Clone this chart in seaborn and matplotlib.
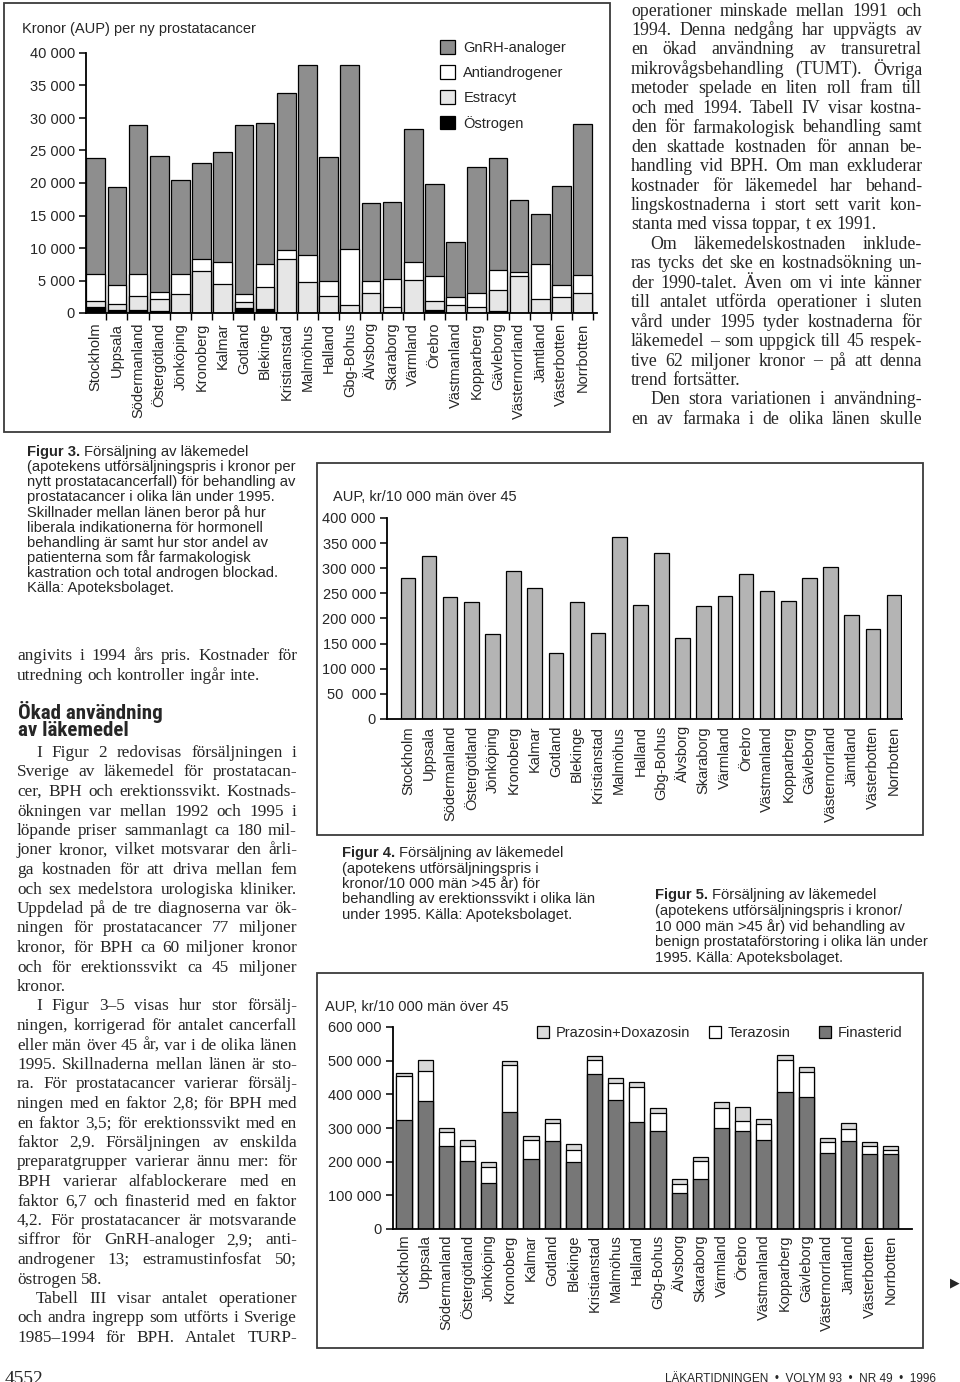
import os
import numpy as np
import pandas as pd
import matplotlib
matplotlib.use('Agg')
import matplotlib.pyplot as plt
from matplotlib import font_manager
from matplotlib.font_manager import FontProperties
from matplotlib.patches import Rectangle, Patch
from matplotlib.ticker import FuncFormatter, MultipleLocator, FixedLocator
import seaborn as sns

W, H = 960, 1382

regions = ['Stockholm', 'Uppsala', 'Södermanland', 'Östergötland', 'Jönköping',
           'Kronoberg', 'Kalmar', 'Gotland', 'Blekinge', 'Kristianstad', 'Malmöhus',
           'Halland', 'Gbg-Bohus', 'Älvsborg', 'Skaraborg', 'Värmland', 'Örebro',
           'Västmanland', 'Kopparberg', 'Gävleborg', 'Västernorrland', 'Jämtland',
           'Västerbotten', 'Norrbotten']

# Figur 3: kronor (AUP) per ny prostatacancer
ostrogen = [1000, 400, 500, 250, 0, 0, 0, 750, 550, 0, 0, 0,
            0, 0, 0, 0, 500, 0, 0, 250, 0, 0, 0, 0]
estracyt = [800, 1000, 2150, 1950, 2900, 6400, 4450, 900, 3450, 8300, 4750, 2650,
            1300, 3100, 1000, 5100, 1400, 1250, 850, 3250, 5700, 2100, 2400, 3050]
antiandrogener = [4200, 2850, 3350, 1100, 3100, 1900, 3450, 1200, 3600, 1400, 4150, 2300,
                  8500, 1850, 4300, 2800, 3850, 1250, 2200, 3150, 550, 5450, 1950, 2800]
gnrh = [17900, 15100, 22850, 20800, 14400, 14800, 16800, 26000, 21700, 24100, 29300, 19000,
        28400, 12000, 11800, 20350, 14050, 8400, 19400, 17200, 11200, 7650, 15250, 23300]

# Figur 4: erektionssvikt, AUP kr/10 000 män över 45
erektion = [281000, 324000, 242500, 232000, 168800, 295000, 260500, 131600, 233200, 172000,
            362800, 227200, 331000, 162100, 224600, 243900, 289000, 254500, 233900, 281000,
            301700, 206000, 179400, 247200]

# Figur 5: BPH, AUP kr/10 000 män över 45
finasterid = [325000, 381500, 246000, 200500, 136500, 347000, 208500, 261000, 198500, 459500,
              384500, 319000, 292500, 107500, 149500, 299500, 290500, 264000, 407000, 393500,
              224500, 260000, 222500, 221500]
terazosin = [128000, 89000, 43500, 47500, 47500, 139000, 56500, 54000, 37500, 41500,
             49500, 103000, 53500, 26000, 51500, 60500, 31500, 46500, 95000, 72000,
             32500, 38500, 24500, 12000]
prazosin_doxazosin = [10000, 30500, 11000, 17000, 14000, 14000, 12000, 13000, 15000, 13000,
                      16000, 14000, 12000, 14000, 12500, 18000, 40000, 15000, 15000, 16000,
                      12000, 15000, 12000, 12000]

SANS = ['Liberation Sans', 'DejaVu Sans']
SERIF = ['Liberation Serif', 'DejaVu Serif']

sns.set_theme(style='ticks')
plt.rcParams['font.family'] = SANS
plt.rcParams['axes.linewidth'] = 1.3
FS = 10.5


def head_font():
    # condensed bold face for the section heading, whichever is installed
    files = {os.path.basename(f.fname): f.fname for f in font_manager.fontManager.ttflist}
    for want in ['NotoSans-CondensedBold', 'RobotoCondensed-Bold', 'LiberationSansNarrow-Bold',
                 'DejaVuSansCondensed-Bold', 'OpenSans-CondensedBold']:
        for base, path in files.items():
            if base.startswith(want):
                return FontProperties(fname=path)
    return FontProperties(family='Liberation Sans', weight='bold')


fig = plt.figure(figsize=(W / 100, H / 100), dpi=100)
renderer = fig.canvas.get_renderer()


def px_box(left, top, right, bottom):
    return [left / W, 1 - bottom / H, (right - left) / W, (bottom - top) / H]


def fy(y):
    return 1 - y / H


def frame(left, top, right, bottom):
    fig.add_artist(Rectangle((left / W, fy(bottom)), (right - left) / W, (bottom - top) / H,
                             transform=fig.transFigure, fill=False, lw=1.3, ec='#3a3a3a'))


def thousands(v, pos):
    return '{:,}'.format(int(round(v))).replace(',', ' ')


def style_axes(ax, ymax, ystep, xlim, xpad):
    sns.despine(ax=ax)
    ax.set_ylim(0, ymax)
    ax.set_xlim(*xlim)
    ax.yaxis.set_major_locator(MultipleLocator(ystep))
    ax.yaxis.set_major_formatter(FuncFormatter(thousands))
    ax.set_xticks(range(len(regions)))
    ax.set_xticklabels(regions, rotation=90, fontsize=FS, va='top', ha='center')
    ax.tick_params(axis='x', length=0, pad=xpad)
    ax.tick_params(axis='y', length=5, width=1.1, labelsize=FS, pad=3, color='black')
    for sp in ax.spines.values():
        sp.set_color('black')
    ax.set_xlabel('')
    ax.set_ylabel('')
    ax.set_facecolor('none')


def stacked(ax, layers, colors, width):
    # cumulative layers drawn from the top down, each bar covering the ones below
    cum = np.cumsum(np.array(layers), axis=0)
    for vals, c in zip(cum[::-1], colors[::-1]):
        df = pd.DataFrame({'region': regions, 'value': vals})
        sns.barplot(data=df, x='region', y='value', order=regions, color=c,
                    saturation=1, width=width, edgecolor='black', linewidth=0.9,
                    errorbar=None, ax=ax)


# ---------- Figur 3 ----------
frame(4, 3, 610, 432)
ax3 = fig.add_axes(px_box(86, 53, 597, 313))
c3 = ['black', '#e6e6e6', 'white', '#8e8e8e']
stacked(ax3, [ostrogen, estracyt, antiandrogener, gnrh], c3, 0.88)
style_axes(ax3, 40000, 5000, (-0.46, 23.68), 7)
ax3.xaxis.set_minor_locator(FixedLocator(np.arange(-0.5, 24, 1.0)))
ax3.tick_params(axis='x', which='minor', length=5, width=1, color='black')
fig.text(22 / W, fy(29), 'Kronor (AUP) per ny prostatacancer', fontsize=FS, va='center')
names3 = ['GnRH-analoger', 'Antiandrogener', 'Estracyt', 'Östrogen']
handles3 = [Patch(fc=c, ec='black', lw=0.9) for c in c3[::-1]]
ax3.legend(handles3, names3, loc='upper left', bbox_to_anchor=(440 / W, fy(40)),
           bbox_transform=fig.transFigure, frameon=False, fontsize=FS,
           handlelength=1.05, handleheight=1.05, handletextpad=0.55,
           labelspacing=0.72, borderpad=0, borderaxespad=0)

# ---------- Figur 4 ----------
frame(317, 463, 923, 835)
ax4 = fig.add_axes(px_box(387, 518, 902, 719))
df4 = pd.DataFrame({'region': regions, 'value': erektion})
sns.barplot(data=df4, x='region', y='value', order=regions, color='#b4b4b4',
            saturation=1, width=0.69, edgecolor='black', linewidth=0.9,
            errorbar=None, ax=ax4)
style_axes(ax4, 400000, 50000, (-0.99, 23.38), 5)
ax4.yaxis.set_major_formatter(FuncFormatter(
    lambda v, p: '50  000' if int(v) == 50000 else thousands(v, p)))
fig.text(333 / W, fy(497), 'AUP, kr/10 000 män över 45', fontsize=FS, va='center')

# ---------- Figur 5 ----------
frame(317, 973, 923, 1348)
ax5 = fig.add_axes(px_box(393, 1027, 912, 1229))
c5 = ['#777777', 'white', '#d9d9d9']
stacked(ax5, [finasterid, terazosin, prazosin_doxazosin], c5, 0.71)
style_axes(ax5, 600000, 100000, (-0.52, 24.0), 4)
fig.text(325 / W, fy(1007), 'AUP, kr/10 000 män över 45', fontsize=FS, va='center')
entries5 = [('Prazosin+Doxazosin', '#d9d9d9', 537),
            ('Terazosin', 'white', 709), ('Finasterid', '#777777', 819)]
for k, (name, c, xp) in enumerate(entries5):
    leg = ax5.legend([Patch(fc=c, ec='black', lw=0.9)], [name], loc='center left',
                     bbox_to_anchor=(xp / W, fy(1033)), bbox_transform=fig.transFigure,
                     frameon=False, fontsize=FS, handlelength=0.85, handleheight=0.85,
                     handletextpad=0.45, borderpad=0, borderaxespad=0)
    if k < len(entries5) - 1:
        ax5.add_artist(leg)


# ---------- text ----------
def put_line(text, x0, x1, y, size, family, justify=True):
    words = text.split()
    arts = [fig.text(0, fy(y), w, fontsize=size, family=family,
                     va='center', ha='left') for w in words]
    widths = [a.get_window_extent(renderer).width for a in arts]
    gap = size * 100 / 72 * 0.25
    if justify and len(words) > 1:
        gap = (x1 - x0 - sum(widths)) / (len(words) - 1)
    x = x0
    for a, w in zip(arts, widths):
        a.set_x(x / W)
        x += w + gap


def column(lines, x0, x1, y0, dy, size=12.8, indent=19):
    # '>' = paragraph indent, '|' at the end = last line, not justified
    for i, s in enumerate(lines):
        ind = indent if s.startswith('>') else 0
        last = s.endswith('|')
        put_line(s.strip('>|'), x0 + ind, x1, y0 + i * dy, size, SERIF, justify=not last)


def caption(lines, x, y0, dy, size=10.6):
    head, rest = lines[0].split('.', 1)
    t = fig.text(x / W, fy(y0), head + '.', fontsize=size, weight='bold', va='center')
    w = t.get_window_extent(renderer).width
    fig.text((x + w + 4) / W, fy(y0), rest.strip(), fontsize=size, va='center')
    for i, s in enumerate(lines[1:], 1):
        fig.text(x / W, fy(y0 + i * dy), s, fontsize=size, va='center')


right_col = [
    'operationer minskade mellan 1991 och',
    '1994. Denna nedgång har uppvägts av',
    'en ökad användning av transuretral',
    'mikrovågsbehandling (TUMT). Övriga',
    'metoder spelade en liten roll fram till',
    'och med 1994. Tabell IV visar kostna-',
    'den för farmakologisk behandling samt',
    'den skattade kostnaden för annan be-',
    'handling vid BPH. Om man exkluderar',
    'kostnader för läkemedel har behand-',
    'lingskostnaderna i stort sett varit kon-',
    'stanta med vissa toppar, t ex 1991.|',
    '>Om läkemedelskostnaden inklude-',
    'ras tycks det ske en kostnadsökning un-',
    'der 1990-talet. Även om vi inte känner',
    'till antalet utförda operationer i sluten',
    'vård under 1995 tyder kostnaderna för',
    'läkemedel – som uppgick till 45 respek-',
    'tive 62 miljoner kronor – på att denna',
    'trend fortsätter.|',
    '>Den stora variationen i användning-',
    'en av farmaka i de olika länen skulle',
]
column(right_col, 631, 922, 11, 19.45)

column(['angivits i 1994 års pris. Kostnader för',
        'utredning och kontroller ingår inte.|'], 17, 297, 656, 19.5, size=12.4)

# section heading, sized so that the first line is about 146 px wide
hp = head_font()
hp.set_size(14)
probe = fig.text(0, 0, 'Ökad användning', fontproperties=hp)
hp.set_size(14 * 146 / probe.get_window_extent(renderer).width)
probe.remove()
fig.text(18 / W, fy(712), 'Ökad användning', va='center', fontproperties=hp)
fig.text(18 / W, fy(731), 'av läkemedel', va='center', fontproperties=hp)

left_col = [
    '>I Figur 2 redovisas försäljningen i',
    'Sverige av läkemedel för prostatacan-',
    'cer, BPH och erektionssvikt. Kostnads-',
    'ökningen var mellan 1992 och 1995 i',
    'löpande priser sammanlagt ca 180 mil-',
    'joner kronor, vilket motsvarar den årli-',
    'ga kostnaden för att driva mellan fem',
    'och sex medelstora urologiska kliniker.',
    'Uppdelad på de tre diagnoserna var ök-',
    'ningen för prostatacancer 77 miljoner',
    'kronor, för BPH ca 60 miljoner kronor',
    'och för erektionssvikt ca 45 miljoner',
    'kronor.|',
    '>I Figur 3–5 visas hur stor försälj-',
    'ningen, korrigerad för antalet cancerfall',
    'eller män över 45 år, var i de olika länen',
    '1995. Skillnaderna mellan länen är sto-',
    'ra. För prostatacancer varierar försälj-',
    'ningen med en faktor 2,8; för BPH med',
    'en faktor 3,5; för erektionssvikt med en',
    'faktor 2,9. Försäljningen av enskilda',
    'preparatgrupper varierar ännu mer: för',
    'BPH varierar alfablockerare med en',
    'faktor 6,7 och finasterid med en faktor',
    '4,2. För prostatacancer är motsvarande',
    'siffror för GnRH-analoger 2,9; anti-',
    'androgener 13; estramustinfosfat 50;',
    'östrogen 58.|',
    '>Tabell III visar antalet operationer',
    'och andra ingrepp som utförts i Sverige',
    '1985–1994 för BPH. Antalet TURP-',
]
column(left_col, 17, 297, 753, 19.5, size=12.4)

caption(['Figur 3. Försäljning av läkemedel',
         '(apotekens utförsäljningspris i kronor per',
         'nytt prostatacancerfall) för behandling av',
         'prostatacancer i olika län under 1995.',
         'Skillnader mellan länen beror på hur',
         'liberala indikationerna för hormonell',
         'behandling är samt hur stor andel av',
         'patienterna som får farmakologisk',
         'kastration och total androgen blockad.',
         'Källa: Apoteksbolaget.'], 27, 452, 15.1)
caption(['Figur 4. Försäljning av läkemedel',
         '(apotekens utförsäljningspris i',
         'kronor/10 000 män >45 år) för',
         'behandling av erektionssvikt i olika län',
         'under 1995. Källa: Apoteksbolaget.'], 342, 853, 15.5)
caption(['Figur 5. Försäljning av läkemedel',
         '(apotekens utförsäljningspris i kronor/',
         '10 000 män >45 år) vid behandling av',
         'benign prostataförstoring i olika län under',
         '1995. Källa: Apoteksbolaget.'], 655, 895, 15.7)

# page footer, cut by the lower page edge as in the scan
fig.text(5 / W, fy(1379), '4552', fontsize=14, family=SERIF, va='center')
fig.text(665 / W, fy(1379), 'LÄKARTIDNINGEN  •  VOLYM 93  •  NR 49  •  1996',
         fontsize=8.5, va='center')
fig.text(950 / W, fy(1283), '▶', fontsize=9, family=['DejaVu Sans'], va='center')

fig.savefig('out.png', dpi=100, facecolor='white')
